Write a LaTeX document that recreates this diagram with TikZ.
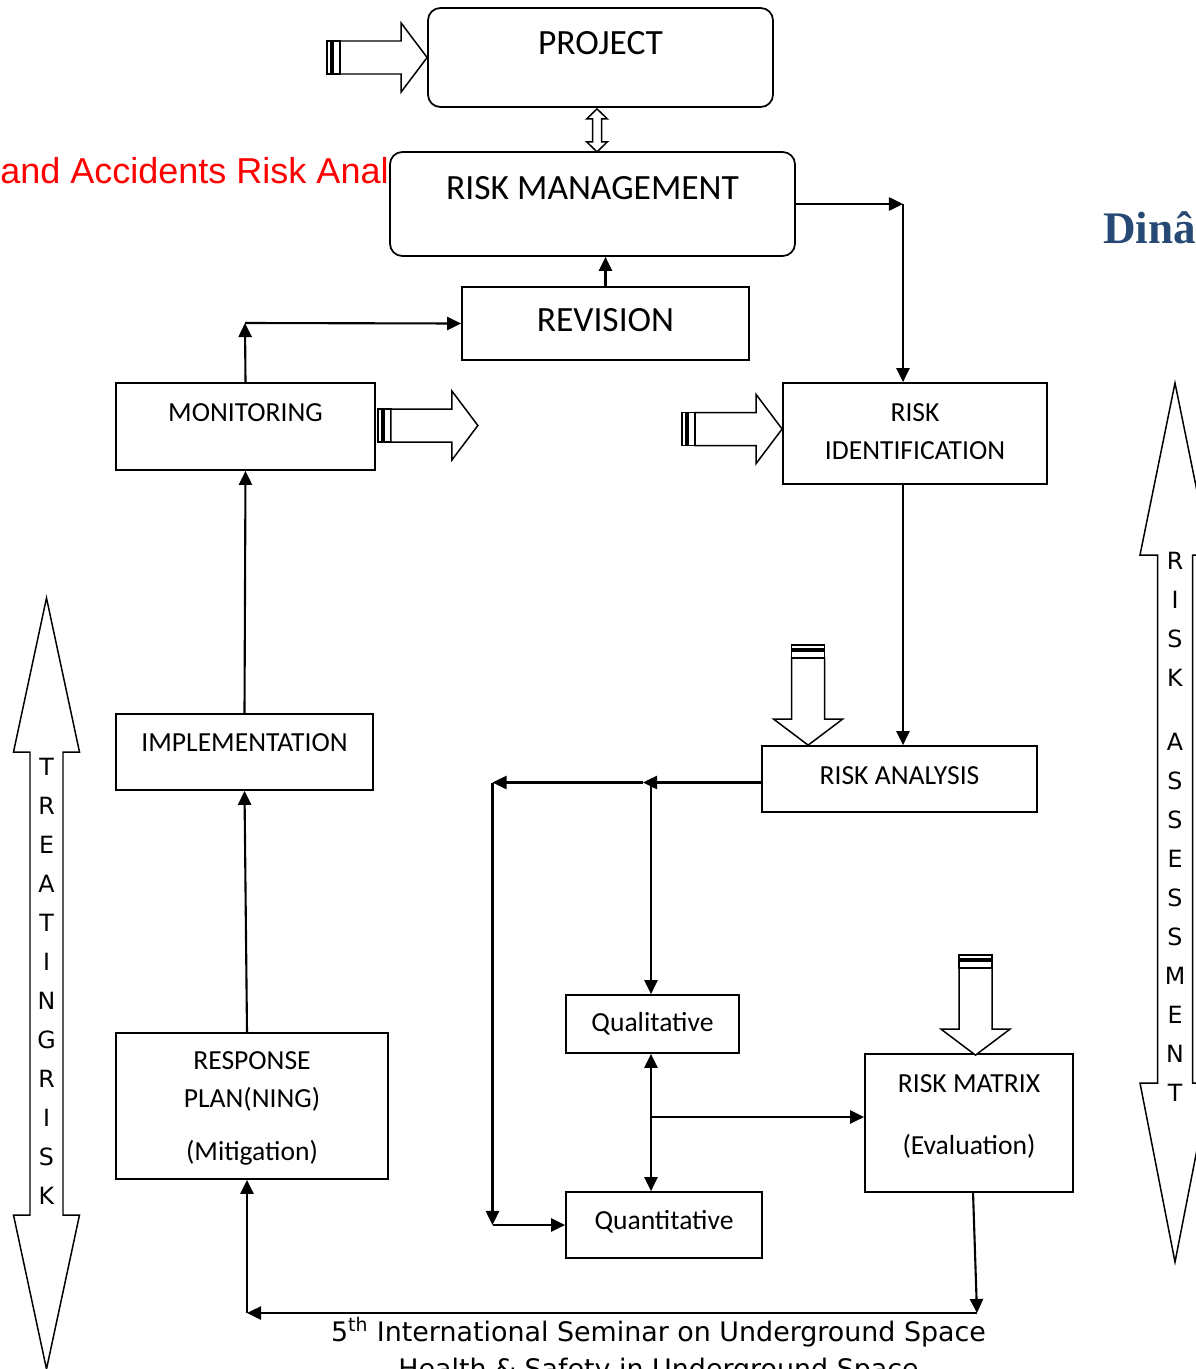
\documentclass[tikz,border=0pt]{standalone}
\usepackage{fontspec}
\setmainfont{Carlito}
\newfontfamily\arialfont{Liberation Sans}
\newfontfamily\timesfont{Liberation Serif}
\newfontfamily\verdfont{DejaVu Sans}
\usetikzlibrary{arrows.meta}
\definecolor{dinablue}{RGB}{38,74,117}
\tikzset{
    >={Triangle[length=8pt,width=7.5pt]},
    box/.style={draw, line width=1pt, inner sep=0pt, align=center},
    rbox/.style={box, rounded corners=7pt},
    dims/.style 2 args={minimum width=#1*0.02cm, minimum height=#2*0.02cm},
    bigtxt/.style={font=\fontsize{20.2}{24}\selectfont},
    smalltxt/.style={font=\fontsize{15.7}{21.5}\selectfont},
    conn/.style={line width=1.2pt},
    hollow/.style={draw, line width=0.85pt, fill=white},
    vletters/.style={inner sep=0pt, align=center, font=\verdfont\fontsize{13.5}{22.2}\selectfont},
    fatarrow/.pic={
        \draw[hollow] (-100,-16.5) rectangle (-96,16.5);
        \draw[hollow] (-94,-16.5) rectangle (-87,16.5);
        \draw[hollow] (-87,-16.5) -- (-26,-16.5) -- (-26,-34.5) -- (0,0)
            -- (-26,34.5) -- (-26,16.5) -- (-87,16.5) -- cycle;
    }
}
\begin{document}
\begin{tikzpicture}[x=0.02cm, y=-0.02cm]
    \useasboundingbox (0,0) rectangle (1196,1369);
    \clip (0,0) rectangle (1196,1369);

    % page fragments around the chart
    \node[inner sep=0pt, anchor=base east, text=red, font=\arialfont\fontsize{20.5}{24}\selectfont] (title) at (389,183) {and Accidents Risk Anal};
    \node[inner sep=0pt, anchor=base west, text=dinablue, font=\timesfont\bfseries\fontsize{25.7}{30}\selectfont] (dina) at (1103,243) {Dinâ};
    \node[inner sep=0pt, anchor=base, align=center, font=\verdfont\fontsize{15.3}{21}\selectfont] (seminar) at (658.5,1378) {5\textsuperscript{th} International Seminar on Underground Space\\Health \& Safety in Underground Space};

    % boxes
    \node[rbox, bigtxt, dims={345}{99}, text depth=16.4pt] (project) at (600.5,57.5) {PROJECT};
    \node[rbox, bigtxt, dims={405}{104}, text depth=18pt] (rm) at (592.5,204) {RISK MANAGEMENT};
    \node[box, bigtxt, dims={287}{73}, text depth=4pt] (rev) at (605.5,323.5) {REVISION};
    \node[box, smalltxt, dims={259}{87}, text depth=16.4pt] (mon) at (245.5,426.5) {MONITORING};
    \node[box, smalltxt, dims={264}{101}, text depth=2.3pt] (ri) at (915,433.5) {RISK\\IDENTIFICATION};
    \node[box, smalltxt, dims={257}{76}, text depth=11.3pt] (imp) at (244.5,752) {IMPLEMENTATION};
    \node[box, smalltxt, dims={275}{66}, text depth=4.5pt] (ra) at (899.5,779) {RISK ANALYSIS};
    \node[box, smalltxt, dims={173}{58}] (qual) at (652.5,1024) {Qualitative};
    \node[box, smalltxt, dims={196}{66}, text depth=5.7pt] (quant) at (664,1225) {Quantitative};
    \node[box, smalltxt, dims={208}{138}, text depth=9.6pt] (matrix) at (969,1123) {RISK MATRIX\\[14.3pt](Evaluation)};
    \node[box, smalltxt, dims={272}{146}, text depth=0pt] (resp) at (252,1106) {RESPONSE\\PLAN(NING)\\[9pt](Mitigation)};

    % hollow arrows
    \draw[hollow] (project.south) ++(-3.5,1) -- ++(10.3,10) -- ++(-5.8,0) -- ++(0,23) -- ++(5.8,0)
        -- ++(-10.3,10) -- ++(-10.3,-10) -- ++(5.8,0) -- ++(0,-23) -- ++(-5.8,0) -- cycle;
    \path (project.west) pic {fatarrow};
    \path (mon.east) ++(102,-1) pic {fatarrow};
    \path (ri.west) ++(0,-4.5) pic {fatarrow};
    \path (ra.north west) ++(47,0) pic[rotate=-90] {fatarrow};
    \path (matrix.north) ++(6.5,2) pic[rotate=-90] {fatarrow};

    % side arrows
    \draw[hollow] (46.5,598) -- (79.5,752) -- (63,752) -- (63,1215) -- (79.5,1215) -- (46.5,1369)
        -- (13.5,1215) -- (30,1215) -- (30,752) -- (13.5,752) -- cycle;
    \draw[hollow] (1175,383) -- (1210,555) -- (1192.5,555) -- (1192.5,1083) -- (1210,1083) -- (1175,1262)
        -- (1140,1083) -- (1157.5,1083) -- (1157.5,555) -- (1140,555) -- cycle;
    \node[vletters, anchor=north] (treat) at (46.5,758) {T\\R\\E\\A\\T\\I\\N\\G\\R\\I\\S\\K};
    \node[vletters, anchor=north] (assess) at (1175,552) {R\\I\\S\\K\\[14pt]A\\S\\S\\E\\S\\S\\M\\E\\N\\T};

    % connectors
    \coordinate (rmr) at (903,204);
    \draw[conn, ->] (rm.east) -- (rmr);
    \draw[conn, ->] (rmr) -- (rmr |- ri.north);
    \draw[conn, ->] (rmr |- ri.south) -- (rmr |- ra.north);

    \coordinate (fork) at (643,782.5);
    \coordinate (bend) at (492.5,782.5);
    \coordinate (low) at (492.5,1225);
    \coordinate (qm) at (651,1117);
    \draw[conn, ->] (ra.west |- fork) -- (fork);
    \draw[conn, ->] (fork) -- (bend);
    \draw[conn, ->] (bend) -- (low);
    \draw[conn, ->] (low) -- (quant.west);
    \draw[conn, ->] (qm |- fork) -- (qm |- qual.north);
    \draw[conn, <->] (qm |- qual.south) -- (qm |- quant.north);
    \draw[conn, ->] (qm) -- (qm -| matrix.west);

    \coordinate (mb) at (977,1313);
    \coordinate (rb) at (247,1313);
    \draw[conn, ->] ([xshift=2.3pt]matrix.south) -- (mb);
    \draw[conn, ->] (mb) -- (rb);
    \draw[conn, ->] (rb) -- (rb |- resp.south);
    \draw[conn, ->] (rb |- resp.north) -- (imp.south);
    \draw[conn, ->] (imp.north) -- (mon.south);

    \coordinate (rv) at (245,323);
    \draw[conn, ->] (mon.north) -- (rv);
    \draw[conn, ->] (rv) -- (rev.west);
    \draw[conn, ->] (rev.north) -- (rev.north |- rm.south);
\end{tikzpicture}
\end{document}
